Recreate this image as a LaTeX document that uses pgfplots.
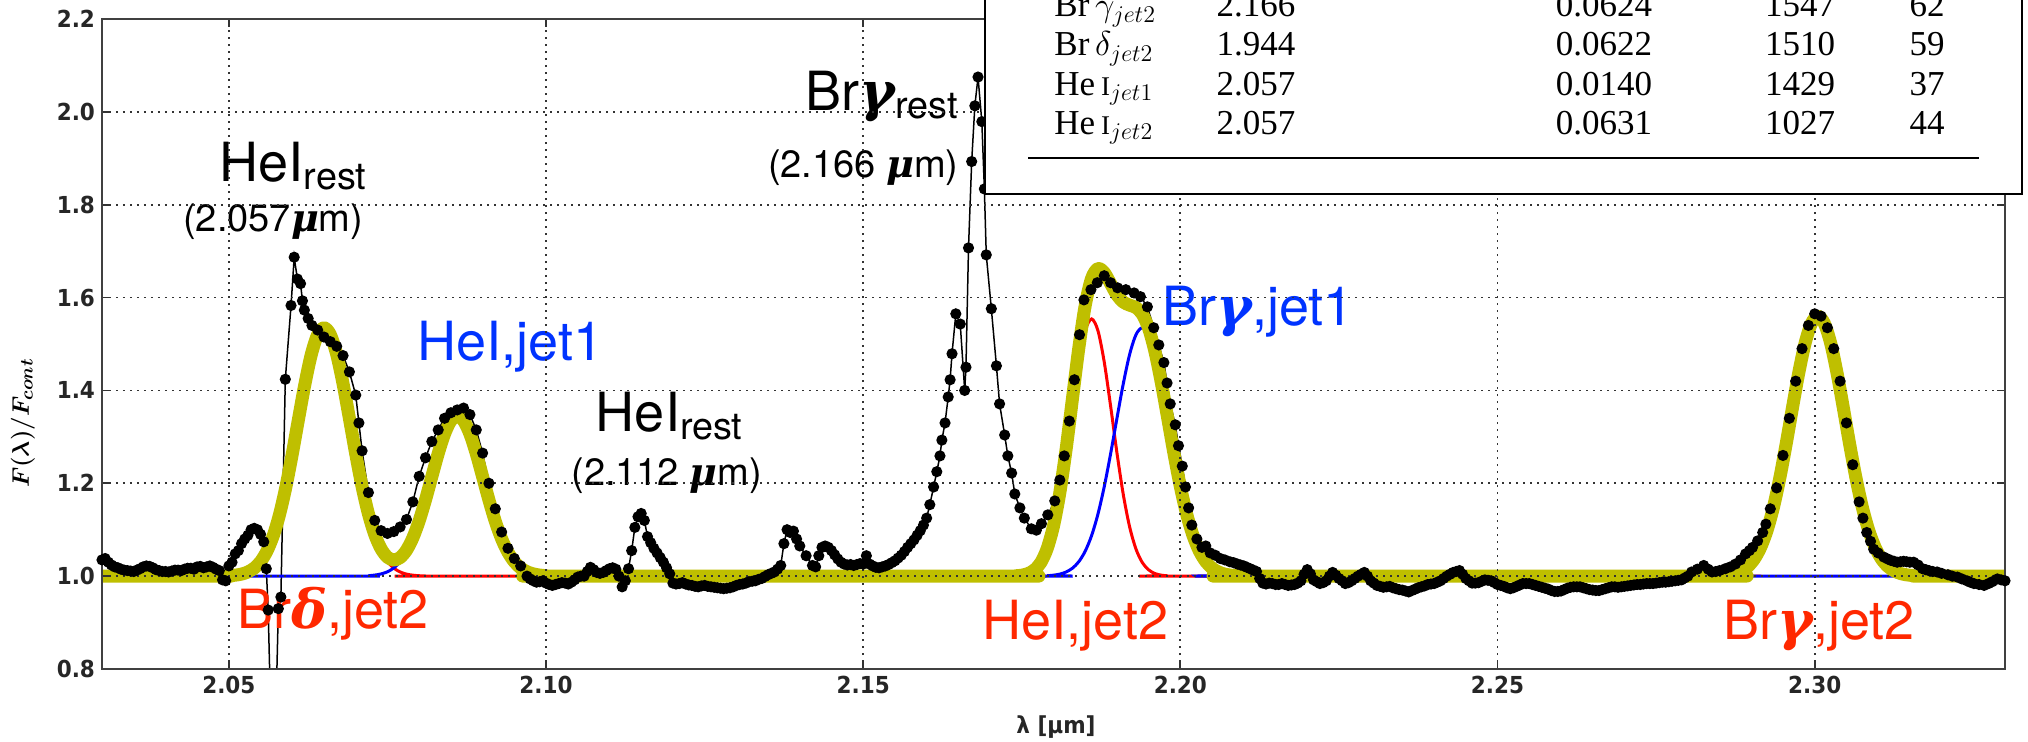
\documentclass[border=0pt]{standalone}
\usepackage{fontspec}
\usepackage{amsmath}
\usepackage{pgfplots}
\usepackage{pgfplotstable}
\pgfplotsset{compat=1.18}
\setmainfont{TeX Gyre Heros}
\newfontfamily\tickfont[FakeStretch=0.92]{DejaVu Sans}
\newfontfamily\tabfont{Liberation Serif}
\newfontfamily\grk{DejaVu Serif}
\newcommand{\bg}[1]{{\grk\bfseries\itshape #1}}
\definecolor{fitY}{RGB}{191,191,0}
\definecolor{lblred}{RGB}{255,40,0}
\definecolor{lblblue}{RGB}{0,51,255}

\pgfplotstableread{
x y
2.0300 1.035
2.0305 1.038
2.0310 1.030
2.0315 1.024
2.0320 1.020
2.0325 1.018
2.0330 1.015
2.0335 1.013
2.0340 1.012
2.0345 1.011
2.0350 1.010
2.0355 1.013
2.0360 1.016
2.0365 1.020
2.0370 1.022
2.0375 1.021
2.0380 1.018
2.0385 1.014
2.0390 1.012
2.0395 1.010
2.0400 1.010
2.0405 1.009
2.0410 1.011
2.0415 1.013
2.0420 1.013
2.0425 1.012
2.0430 1.015
2.0435 1.017
2.0440 1.017
2.0445 1.015
2.0450 1.020
2.0455 1.021
2.0460 1.018
2.0465 1.020
2.0470 1.022
2.0475 1.019
2.0480 1.015
2.0485 1.012
2.0490 0.992
2.0495 0.990
2.0500 1.022
2.0505 1.030
2.0510 1.048
2.0515 1.055
2.0520 1.070
2.0525 1.080
2.0530 1.088
2.0535 1.100
2.0540 1.103
2.0545 1.100
2.0550 1.090
2.0555 1.074
2.0559 1.016
2.0562 0.927
2.0566 0.700
2.0574 0.700
2.0578 0.930
2.0582 0.955
2.0589 1.424
2.0598 1.583
2.0603 1.687
2.0608 1.640
2.0613 1.630
2.0616 1.593
2.0619 1.573
2.0625 1.555
2.0631 1.540
2.0640 1.530
2.0650 1.515
2.0660 1.505
2.0670 1.495
2.0680 1.475
2.0690 1.440
2.0700 1.390
2.0705 1.330
2.0710 1.270
2.0720 1.180
2.0730 1.120
2.0740 1.098
2.0750 1.092
2.0760 1.096
2.0770 1.106
2.0780 1.122
2.0790 1.160
2.0800 1.215
2.0810 1.255
2.0820 1.290
2.0830 1.315
2.0840 1.340
2.0850 1.352
2.0860 1.358
2.0870 1.362
2.0880 1.348
2.0890 1.315
2.0900 1.265
2.0910 1.200
2.0920 1.145
2.0930 1.095
2.0940 1.060
2.0950 1.038
2.0960 1.022
2.0970 1.000
2.0975 0.994
2.0980 0.990
2.0985 0.987
2.0990 0.988
2.0995 0.990
2.1000 0.985
2.1005 0.982
2.1010 0.980
2.1015 0.982
2.1020 0.984
2.1025 0.986
2.1030 0.985
2.1035 0.983
2.1040 0.987
2.1045 0.992
2.1050 0.998
2.1055 1.000
2.1060 1.000
2.1065 1.010
2.1070 1.019
2.1075 1.014
2.1080 1.008
2.1085 1.006
2.1090 1.008
2.1095 1.012
2.1100 1.016
2.1105 1.018
2.1110 1.015
2.1115 1.000
2.1120 0.977
2.1125 0.990
2.1130 1.016
2.1135 1.055
2.1140 1.105
2.1145 1.128
2.1150 1.135
2.1155 1.120
2.1160 1.085
2.1165 1.072
2.1170 1.060
2.1175 1.050
2.1180 1.040
2.1185 1.030
2.1190 1.018
2.1195 1.005
2.1200 0.985
2.1205 0.983
2.1210 0.984
2.1215 0.986
2.1220 0.983
2.1225 0.981
2.1230 0.980
2.1235 0.978
2.1240 0.977
2.1245 0.979
2.1250 0.980
2.1255 0.978
2.1260 0.977
2.1265 0.976
2.1270 0.975
2.1275 0.974
2.1280 0.973
2.1285 0.974
2.1290 0.975
2.1295 0.977
2.1300 0.980
2.1305 0.982
2.1310 0.983
2.1315 0.985
2.1320 0.988
2.1325 0.989
2.1330 0.990
2.1335 0.993
2.1340 0.995
2.1345 0.999
2.1350 1.003
2.1355 1.006
2.1360 1.009
2.1365 1.015
2.1370 1.023
2.1375 1.070
2.1380 1.100
2.1385 1.094
2.1390 1.097
2.1395 1.080
2.1400 1.065
2.1410 1.044
2.1420 1.023
2.1425 1.020
2.1430 1.044
2.1435 1.062
2.1440 1.065
2.1445 1.062
2.1450 1.055
2.1455 1.046
2.1460 1.037
2.1465 1.030
2.1470 1.026
2.1475 1.024
2.1480 1.025
2.1485 1.023
2.1490 1.025
2.1495 1.027
2.1500 1.026
2.1505 1.044
2.1510 1.026
2.1515 1.022
2.1520 1.019
2.1525 1.018
2.1530 1.020
2.1535 1.022
2.1540 1.025
2.1545 1.029
2.1550 1.033
2.1555 1.039
2.1560 1.045
2.1565 1.053
2.1570 1.062
2.1575 1.070
2.1580 1.078
2.1585 1.088
2.1590 1.098
2.1595 1.110
2.1600 1.125
2.1605 1.154
2.1611 1.192
2.1616 1.225
2.1621 1.259
2.1624 1.293
2.1629 1.330
2.1634 1.386
2.1637 1.423
2.1640 1.479
2.1646 1.565
2.1653 1.543
2.1660 1.400
2.1662 1.450
2.1666 1.707
2.1671 1.893
2.1676 2.013
2.1681 2.075
2.1687 1.979
2.1691 1.834
2.1694 1.692
2.1702 1.576
2.1710 1.453
2.1715 1.371
2.1723 1.304
2.1728 1.259
2.1734 1.222
2.1739 1.177
2.1747 1.147
2.1754 1.125
2.1765 1.102
2.1773 1.099
2.1781 1.113
2.1791 1.132
2.1802 1.162
2.1810 1.207
2.1817 1.259
2.1825 1.334
2.1833 1.423
2.1841 1.520
2.1848 1.595
2.1859 1.617
2.1869 1.632
2.1880 1.647
2.1890 1.632
2.1901 1.621
2.1914 1.617
2.1927 1.610
2.1937 1.602
2.1948 1.580
2.1958 1.535
2.1966 1.498
2.1974 1.460
2.1979 1.416
2.1984 1.371
2.1992 1.326
2.1997 1.281
2.2003 1.237
2.2008 1.192
2.2013 1.147
2.2018 1.110
2.2026 1.080
2.2034 1.062
2.2040 1.065
2.2047 1.050
2.2055 1.045
2.2063 1.038
2.2070 1.035
2.2078 1.031
2.2084 1.029
2.2090 1.026
2.2095 1.024
2.2100 1.022
2.2105 1.019
2.2110 1.016
2.2115 1.013
2.2120 1.010
2.2125 0.995
2.2130 0.985
2.2135 0.983
2.2140 0.985
2.2145 0.984
2.2150 0.982
2.2155 0.982
2.2160 0.984
2.2165 0.982
2.2170 0.980
2.2175 0.981
2.2180 0.982
2.2185 0.985
2.2190 0.990
2.2195 1.004
2.2200 1.014
2.2205 1.005
2.2210 0.992
2.2215 0.988
2.2220 0.984
2.2225 0.986
2.2230 0.990
2.2235 1.000
2.2240 1.008
2.2245 1.002
2.2250 0.995
2.2255 0.990
2.2260 0.984
2.2265 0.986
2.2270 0.990
2.2275 0.995
2.2280 1.000
2.2285 1.004
2.2290 1.008
2.2295 1.000
2.2300 0.990
2.2305 0.985
2.2310 0.980
2.2315 0.978
2.2320 0.976
2.2325 0.977
2.2330 0.978
2.2335 0.975
2.2340 0.973
2.2345 0.971
2.2350 0.970
2.2355 0.968
2.2360 0.966
2.2365 0.969
2.2370 0.972
2.2375 0.975
2.2380 0.977
2.2385 0.979
2.2390 0.982
2.2395 0.983
2.2400 0.984
2.2405 0.987
2.2410 0.990
2.2415 0.995
2.2420 1.000
2.2425 1.004
2.2430 1.008
2.2435 1.010
2.2440 1.012
2.2445 1.004
2.2450 0.995
2.2455 0.990
2.2460 0.985
2.2465 0.985
2.2470 0.986
2.2475 0.989
2.2480 0.992
2.2485 0.991
2.2490 0.990
2.2495 0.986
2.2500 0.982
2.2505 0.980
2.2510 0.978
2.2515 0.975
2.2520 0.973
2.2525 0.975
2.2530 0.978
2.2535 0.981
2.2540 0.984
2.2545 0.984
2.2550 0.984
2.2555 0.982
2.2560 0.980
2.2565 0.978
2.2570 0.976
2.2575 0.974
2.2580 0.972
2.2585 0.969
2.2590 0.967
2.2595 0.967
2.2600 0.968
2.2605 0.971
2.2610 0.974
2.2615 0.976
2.2620 0.977
2.2625 0.977
2.2630 0.977
2.2635 0.975
2.2640 0.973
2.2645 0.971
2.2650 0.970
2.2655 0.969
2.2660 0.969
2.2665 0.971
2.2670 0.973
2.2675 0.975
2.2680 0.977
2.2685 0.977
2.2690 0.976
2.2695 0.977
2.2700 0.978
2.2705 0.979
2.2710 0.980
2.2715 0.981
2.2720 0.982
2.2725 0.982
2.2730 0.983
2.2735 0.984
2.2740 0.984
2.2745 0.984
2.2750 0.985
2.2755 0.986
2.2760 0.987
2.2765 0.987
2.2770 0.988
2.2775 0.989
2.2780 0.990
2.2785 0.991
2.2790 0.992
2.2795 0.996
2.2800 1.000
2.2806 1.009
2.2815 1.015
2.2825 1.023
2.2832 1.015
2.2838 1.009
2.2844 1.010
2.2850 1.012
2.2859 1.016
2.2867 1.020
2.2875 1.026
2.2883 1.035
2.2891 1.048
2.2897 1.055
2.2902 1.062
2.2910 1.076
2.2918 1.094
2.2923 1.112
2.2930 1.145
2.2940 1.190
2.2950 1.260
2.2960 1.340
2.2970 1.420
2.2980 1.490
2.2990 1.540
2.3000 1.565
2.3010 1.560
2.3020 1.535
2.3030 1.490
2.3040 1.420
2.3050 1.330
2.3060 1.240
2.3070 1.160
2.3076 1.125
2.3082 1.094
2.3088 1.075
2.3093 1.058
2.3100 1.050
2.3109 1.041
2.3115 1.037
2.3120 1.034
2.3125 1.032
2.3130 1.030
2.3135 1.031
2.3140 1.032
2.3145 1.031
2.3150 1.030
2.3156 1.030
2.3163 1.024
2.3170 1.016
2.3175 1.014
2.3180 1.012
2.3186 1.010
2.3193 1.009
2.3200 1.006
2.3210 1.003
2.3217 1.000
2.3225 0.998
2.3232 0.994
2.3240 0.990
2.3245 0.987
2.3251 0.984
2.3259 0.982
2.3267 0.980
2.3274 0.984
2.3280 0.988
2.3288 0.994
2.3294 0.992
2.3300 0.990
}\spec

\pgfplotstableread{
x y
2.030 1
2.049 1
2.050 1.0009
2.051 1.0021
2.052 1.0044
2.053 1.0090
2.054 1.0173
2.055 1.0314
2.056 1.0539
2.057 1.0872
2.058 1.1334
2.059 1.1928
2.060 1.2634
2.061 1.3399
2.062 1.4145
2.063 1.4776
2.064 1.5201
2.065 1.5350
2.066 1.5201
2.067 1.4776
2.068 1.4145
2.069 1.3399
2.070 1.2634
2.071 1.1928
2.072 1.1334
2.073 1.0872
2.074 1.0539
2.075 1.0314
2.076 1.0173
2.077 1.0090
2.078 1.0044
2.079 1.0021
2.080 1.0009
2.081 1.0004
2.082 1
2.173 1
2.174 1.0007
2.175 1.0021
2.176 1.0056
2.177 1.0135
2.178 1.0293
2.179 1.0584
2.180 1.1061
2.181 1.1758
2.182 1.2657
2.183 1.3665
2.184 1.4610
2.185 1.5291
2.186 1.5540
2.187 1.5291
2.188 1.4610
2.189 1.3665
2.190 1.2657
2.191 1.1758
2.192 1.1061
2.193 1.0584
2.194 1.0293
2.195 1.0135
2.196 1.0056
2.197 1.0021
2.198 1.0007
2.199 1
2.2845 1
2.2855 1.0013
2.2865 1.0028
2.2875 1.0058
2.2885 1.0114
2.2895 1.0212
2.2905 1.0375
2.2915 1.0627
2.2925 1.0992
2.2935 1.1488
2.2945 1.2116
2.2955 1.2848
2.2965 1.3633
2.2975 1.4390
2.2985 1.5026
2.2995 1.5450
2.3005 1.5600
2.3015 1.5450
2.3025 1.5026
2.3035 1.4390
2.3045 1.3633
2.3055 1.2848
2.3065 1.2116
2.3075 1.1488
2.3085 1.0992
2.3095 1.0627
2.3105 1.0375
2.3115 1.0212
2.3125 1.0114
2.3135 1.0058
2.3145 1.0028
2.3155 1.0013
2.3165 1
2.330 1
}\redfit

\pgfplotstableread{
x y
2.030 1
2.071 1
2.072 1.0010
2.073 1.0023
2.074 1.0048
2.075 1.0094
2.076 1.0176
2.077 1.0310
2.078 1.0514
2.079 1.0803
2.080 1.1182
2.081 1.1640
2.082 1.2143
2.083 1.2640
2.084 1.3063
2.085 1.3349
2.086 1.3450
2.087 1.3349
2.088 1.3063
2.089 1.2640
2.090 1.2143
2.091 1.1640
2.092 1.1182
2.093 1.0803
2.094 1.0514
2.095 1.0310
2.096 1.0176
2.097 1.0094
2.098 1.0048
2.099 1.0023
2.100 1.0010
2.101 1
2.178 1
2.179 1.0009
2.180 1.0021
2.181 1.0044
2.182 1.0090
2.183 1.0173
2.184 1.0314
2.185 1.0539
2.186 1.0872
2.187 1.1334
2.188 1.1928
2.189 1.2634
2.190 1.3399
2.191 1.4145
2.192 1.4776
2.193 1.5201
2.194 1.5350
2.195 1.5201
2.196 1.4776
2.197 1.4145
2.198 1.3399
2.199 1.2634
2.200 1.1928
2.201 1.1334
2.202 1.0872
2.203 1.0539
2.204 1.0314
2.205 1.0173
2.206 1.0090
2.207 1.0044
2.208 1.0021
2.209 1.0009
2.210 1
2.330 1
}\bluefit

\pgfplotstableread{
x y
2.030 1
2.049 1
2.050 1.0009
2.051 1.0021
2.052 1.0044
2.053 1.0090
2.054 1.0173
2.055 1.0314
2.056 1.0539
2.057 1.0872
2.058 1.1334
2.059 1.1928
2.060 1.2634
2.061 1.3399
2.062 1.4145
2.063 1.4776
2.064 1.5201
2.065 1.5350
2.066 1.5201
2.067 1.4776
2.068 1.4145
2.069 1.3399
2.070 1.2634
2.071 1.1928
2.072 1.1344
2.073 1.0895
2.074 1.0587
2.075 1.0408
2.076 1.0349
2.077 1.0400
2.078 1.0558
2.079 1.0824
2.080 1.1191
2.081 1.1644
2.082 1.2145
2.083 1.2640
2.084 1.3063
2.085 1.3349
2.086 1.3450
2.087 1.3349
2.088 1.3063
2.089 1.2640
2.090 1.2143
2.091 1.1640
2.092 1.1182
2.093 1.0803
2.094 1.0514
2.095 1.0310
2.096 1.0176
2.097 1.0094
2.098 1.0048
2.099 1.0023
2.100 1.0010
2.101 1
2.173 1
2.174 1.0007
2.175 1.0021
2.176 1.0056
2.177 1.0135
2.178 1.0293
2.179 1.0593
2.180 1.1082
2.181 1.1802
2.182 1.2747
2.183 1.3838
2.184 1.4924
2.185 1.5830
2.186 1.6412
2.187 1.6625
2.188 1.6538
2.189 1.6299
2.190 1.6056
2.191 1.5903
2.192 1.5837
2.193 1.5785
2.194 1.5643
2.195 1.5336
2.196 1.4832
2.197 1.4166
2.198 1.3406
2.199 1.2634
2.200 1.1928
2.201 1.1334
2.202 1.0872
2.203 1.0539
2.204 1.0314
2.205 1.0173
2.206 1.0090
2.207 1.0044
2.208 1.0021
2.209 1.0009
2.210 1
2.2845 1
2.2855 1.0013
2.2865 1.0028
2.2875 1.0058
2.2885 1.0114
2.2895 1.0212
2.2905 1.0375
2.2915 1.0627
2.2925 1.0992
2.2935 1.1488
2.2945 1.2116
2.2955 1.2848
2.2965 1.3633
2.2975 1.4390
2.2985 1.5026
2.2995 1.5450
2.3005 1.5600
2.3015 1.5450
2.3025 1.5026
2.3035 1.4390
2.3045 1.3633
2.3055 1.2848
2.3065 1.2116
2.3075 1.1488
2.3085 1.0992
2.3095 1.0627
2.3105 1.0375
2.3115 1.0212
2.3125 1.0114
2.3135 1.0058
2.3145 1.0028
2.3155 1.0013
2.3165 1
2.330 1
}\totalfit

\begin{document}
\begin{tikzpicture}
\begin{axis}[
  scale only axis,
  width=951.5pt, height=325pt,
  at={(0,0)}, anchor=south west,
  xmin=2.03, xmax=2.33, ymin=0.8, ymax=2.2,
  xtick={2.05,2.10,2.15,2.20,2.25,2.30},
  ytick={0.8,1.0,1.2,1.4,1.6,1.8,2.0,2.2},
  /pgf/number format/assume math mode=true,
  x tick label style={/pgf/number format/.cd,fixed,fixed zerofill,precision=2},
  y tick label style={/pgf/number format/.cd,fixed,fixed zerofill,precision=1},
  tick label style={font=\tickfont\bfseries\fontsize{11.7}{12}\selectfont, text=black!85},
  grid=major,
  major grid style={black!80, line width=0.9pt, dash pattern=on 1.2pt off 2.3pt},
  axis line style={black!75, line width=1.3pt},
  tick style={black!80, line width=0.9pt},
  major tick length=4pt,
  axis on top,
  clip=true,
]
\addplot[black, line width=0.75pt, mark=*, mark size=2.4pt, mark options={fill=black, draw=black, solid}] table {\spec};
\addplot[red, line width=1.5pt, smooth] table {\redfit};
\addplot[blue, line width=1.5pt, smooth] table {\bluefit};
\addplot[fitY, line width=6.5pt, smooth, line join=round, line cap=round] table {\totalfit};

\node[font=\fontsize{27}{30}\selectfont] at (axis cs:2.0602,1.884) {HeI\textsubscript{rest}};
\node[font=\fontsize{19}{22}\selectfont] at (axis cs:2.0570,1.763) {(2.057\bg{μ}m)};
\node[font=\fontsize{27}{30}\selectfont, text=lblblue] at (axis cs:2.0944,1.494) {HeI,jet1};
\node[font=\fontsize{27}{30}\selectfont] at (axis cs:2.1195,1.345) {HeI\textsubscript{rest}};
\node[font=\fontsize{19}{22}\selectfont] at (axis cs:2.1190,1.216) {(2.112 \bg{μ}m)};
\node[font=\fontsize{27}{30}\selectfont] at (axis cs:2.1530,2.033) {Br\bg{γ}\textsubscript{rest}};
\node[font=\fontsize{19}{22}\selectfont] at (axis cs:2.1500,1.880) {(2.166 \bg{μ}m)};
\node[font=\fontsize{27}{30}\selectfont, text=lblblue] at (axis cs:2.2123,1.569) {Br\bg{γ},jet1};
\node[font=\fontsize{27}{30}\selectfont, text=lblred] at (axis cs:2.0664,0.918) {Br\bg{δ},jet2};
\node[font=\fontsize{27}{30}\selectfont, text=lblred] at (axis cs:2.1835,0.893) {HeI,jet2};
\node[font=\fontsize{27}{30}\selectfont, text=lblred] at (axis cs:2.3007,0.893) {Br\bg{γ},jet2};
\end{axis}

% axis labels
\node[font=\tickfont\bfseries\fontsize{11.7}{12}\selectfont, text=black!85] at (477pt,-29pt) {λ [μm]};
\node[rotate=90, font=\fontsize{13}{15}\selectfont] at (-39.5pt,123pt) {$\boldsymbol{F(\lambda)/F_{cont}}$};

% table box
\fill[white] (441.5pt,237.5pt) rectangle (960pt,420pt);
\draw[black, line width=1.2pt] (441.5pt,237.5pt) rectangle (960pt,420pt);
\begin{scope}[every node/.style={font=\tabfont\fontsize{17.5}{19}\selectfont, inner sep=0pt}]
\node[anchor=base west] at (476pt,326pt) {Br\,$\gamma_{jet2}$};
\node[anchor=base] at (577pt,326pt) {2.166};
\node[anchor=base] at (751pt,326pt) {0.0624};
\node[anchor=base] at (849pt,326pt) {1547};
\node[anchor=base] at (912.5pt,326pt) {62};
\node[anchor=base west] at (476pt,306.5pt) {Br\,$\delta_{jet2}$};
\node[anchor=base] at (577pt,306.5pt) {1.944};
\node[anchor=base] at (751pt,306.5pt) {0.0622};
\node[anchor=base] at (849pt,306.5pt) {1510};
\node[anchor=base] at (912.5pt,306.5pt) {59};
\node[anchor=base west] at (476pt,287pt) {He\,{\fontsize{13.5}{15}\selectfont I}$_{jet1}$};
\node[anchor=base] at (577pt,287pt) {2.057};
\node[anchor=base] at (751pt,287pt) {0.0140};
\node[anchor=base] at (849pt,287pt) {1429};
\node[anchor=base] at (912.5pt,287pt) {37};
\node[anchor=base west] at (476pt,267.5pt) {He\,{\fontsize{13.5}{15}\selectfont I}$_{jet2}$};
\node[anchor=base] at (577pt,267.5pt) {2.057};
\node[anchor=base] at (751pt,267.5pt) {0.0631};
\node[anchor=base] at (849pt,267.5pt) {1027};
\node[anchor=base] at (912.5pt,267.5pt) {44};
\end{scope}
\draw[black, line width=1pt] (463pt,255.5pt) -- (938.5pt,255.5pt);

\pgfresetboundingbox
\useasboundingbox (-51pt,-36pt) rectangle (963pt,334.5pt);
\end{tikzpicture}
\end{document}
